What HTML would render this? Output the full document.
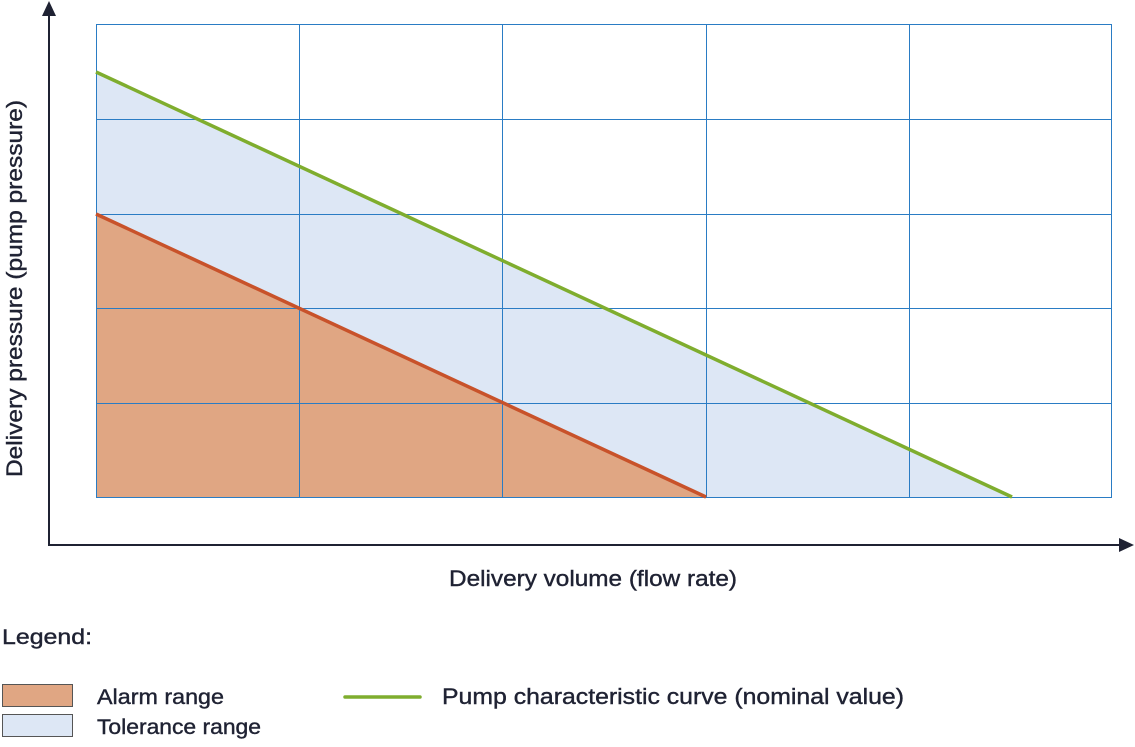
<!DOCTYPE html>
<html><head><style>
body{margin:0;background:#fff;}
svg text{font-family:"Liberation Sans",sans-serif;fill:#1f2233;stroke:#1f2233;stroke-width:0.4;}
</style></head><body>
<svg width="1135" height="742" viewBox="0 0 1135 742" xmlns="http://www.w3.org/2000/svg">
<polygon points="96,72 1012,497 96,497" fill="#dde7f5"/>
<polygon points="96,214 706,497 96,497" fill="#e0a683"/>
<g stroke="#2a7cc4" stroke-width="1" fill="none">
<rect x="96.5" y="24.5" width="1015" height="473"/>
<line x1="299.5" y1="24" x2="299.5" y2="497"/>
<line x1="502.5" y1="24" x2="502.5" y2="497"/>
<line x1="706.5" y1="24" x2="706.5" y2="497"/>
<line x1="909.5" y1="24" x2="909.5" y2="497"/>
<line x1="96" y1="119.5" x2="1112" y2="119.5"/>
<line x1="96" y1="214.5" x2="1112" y2="214.5"/>
<line x1="96" y1="308.5" x2="1112" y2="308.5"/>
<line x1="96" y1="403.5" x2="1112" y2="403.5"/>
</g>
<line x1="96" y1="214" x2="706" y2="497" stroke="#c8522a" stroke-width="3.5"/>
<line x1="96" y1="72" x2="1012" y2="497" stroke="#7fad2e" stroke-width="3.5"/>
<line x1="49" y1="12" x2="49" y2="545" stroke="#1f2233" stroke-width="2"/>
<polygon points="49,1 42,16 56,16" fill="#1f2233"/>
<line x1="48" y1="545" x2="1122" y2="545" stroke="#1f2233" stroke-width="2"/>
<polygon points="1134,545 1119,538 1119,552" fill="#1f2233"/>
<text x="449" y="586" font-size="22" textLength="288" lengthAdjust="spacingAndGlyphs">Delivery volume (flow rate)</text>
<text transform="translate(22,477) rotate(-90)" font-size="22" textLength="377" lengthAdjust="spacingAndGlyphs">Delivery pressure (pump pressure)</text>
<text x="2" y="644" font-size="21" textLength="90" lengthAdjust="spacingAndGlyphs">Legend:</text>
<rect x="2.5" y="684.5" width="70" height="22" fill="#e0a683" stroke="#555" stroke-width="1"/>
<rect x="2.5" y="714.5" width="70" height="22" fill="#dde7f5" stroke="#555" stroke-width="1"/>
<text x="97" y="704" font-size="21" textLength="127" lengthAdjust="spacingAndGlyphs">Alarm range</text>
<text x="97" y="734" font-size="21" textLength="164" lengthAdjust="spacingAndGlyphs">Tolerance range</text>
<line x1="345" y1="697" x2="420" y2="697" stroke="#7fad2e" stroke-width="3.5" stroke-linecap="round"/>
<text x="442" y="704" font-size="22" textLength="462" lengthAdjust="spacingAndGlyphs">Pump characteristic curve (nominal value)</text>
</svg>
</body></html>
